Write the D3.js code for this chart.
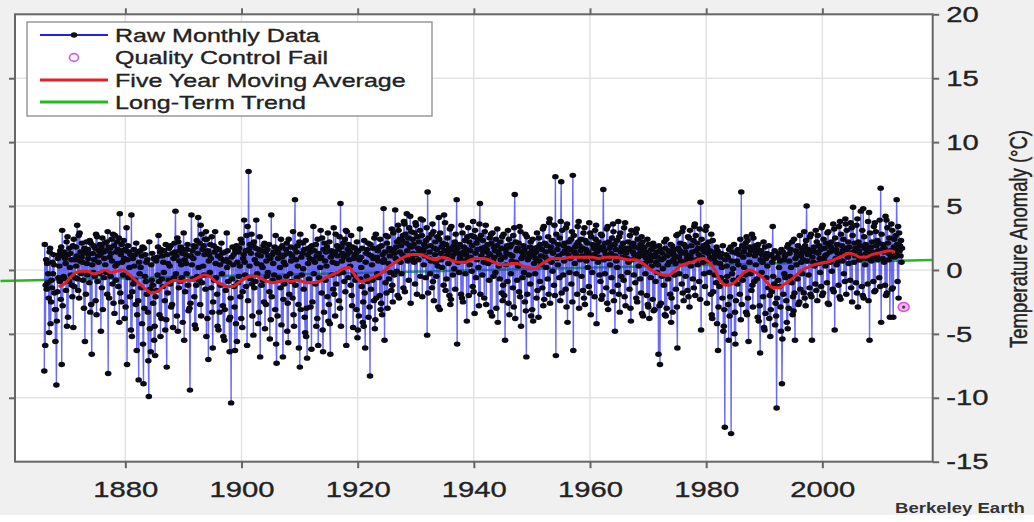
<!DOCTYPE html>
<html><head><meta charset="utf-8">
<script src="https://cdn.jsdelivr.net/npm/d3@7"></script>
<style>
html,body{margin:0;padding:0;background:#fff;}
svg{display:block;}
text{font-family:"Liberation Sans",Arial,Helvetica,sans-serif;fill:#222;stroke:#222;stroke-width:0.35px;}
</style></head><body>
<svg id="chart" width="1034" height="522"></svg>
<script>
// ---------- DATA ----------
const rawStartYear = 1866;
// monthly anomalies, tenths of °C, one row per year (Jan..Dec)
const rawMonthlyTenths = [
[-79,20,-59,-12,8,-15,5,-10,-3,-22,-49,14],
[17,-42,-25,-8,-14,6,-3,12,4,-18,-31,-56],
[-31,-90,-40,-17,9,-6,12,3,-9,15,-23,18],
[-74,31,-28,11,-5,14,-7,9,5,-16,22,-44],
[26,-37,12,-9,17,2,13,-4,8,-12,-21,19],
[-45,24,-13,8,-6,18,3,11,35,-7,-16,27],
[-22,29,7,14,-3,10,21,6,-8,13,-30,17],
[-56,15,-19,22,5,-4,16,9,12,-10,23,-33],
[21,-27,-66,4,13,-2,19,8,-5,17,-24,28],
[-35,26,-9,11,6,15,-3,20,12,-48,18,-14],
[25,-31,14,-6,9,21,4,15,-2,22,-19,30],
[-81,18,-22,10,17,-5,13,24,7,-11,28,-26],
[19,-34,27,3,-8,14,22,5,16,-13,25,-41],
[44,-18,12,-25,20,6,15,-4,23,9,-38,16],
[-29,15,33,-74,8,19,-6,14,2,-21,12,-47],
[43,-52,-17,9,-11,16,3,-8,12,-27,21,-63],
[-35,14,-24,-86,6,-3,15,2,-14,11,-42,18],
[-58,-89,17,-30,-5,12,-9,6,-19,8,-33,-71],
[-99,22,-46,-15,-64,4,-8,13,-12,-26,9,-55],
[-44,-67,-21,7,-16,10,-4,18,27,-9,-35,14],
[-52,16,-38,-7,11,-13,6,-2,15,-24,-47,20],
[-39,-76,12,-18,5,-8,17,3,-11,19,-29,-8],
[-27,13,-45,9,-6,21,14,46,-3,11,-36,25],
[-48,22,-14,7,15,-9,18,4,-6,13,-41,16],
[29,-55,8,-17,12,5,-3,16,20,-12,-32,11],
[-30,-94,-26,11,43,4,15,-7,9,19,-21,-43],
[18,-46,-12,23,-5,13,41,2,-8,21,-27,35],
[-36,28,-10,16,3,19,-4,12,24,-15,30,-52],
[24,-38,15,-70,7,12,-2,20,9,-14,26,-33],
[-61,-25,19,-8,14,30,5,-6,17,-19,-44,11],
[-47,16,-33,4,-12,9,21,-3,13,-28,-52,7],
[-55,-31,14,-16,8,29,2,15,-9,6,-39,-64],
[-37,-22,-104,10,-7,18,4,12,-13,-29,-63,15],
[-42,19,-56,6,-10,14,-5,17,3,-21,24,-38],
[21,-45,-17,9,12,39,6,-4,15,-13,27,-59],
[34,-24,77,16,3,20,-7,13,28,-11,-36,19],
[-51,22,-14,8,-9,17,39,5,-3,12,-42,16],
[-33,26,-68,11,4,-12,15,2,-8,19,-25,21],
[-46,14,-27,7,-5,16,-2,11,20,-17,-54,9],
[-39,43,-21,12,-8,5,14,-4,18,-31,27,-58],
[-73,15,-36,9,13,-6,17,2,-14,24,-43,10],
[19,-68,-23,6,-11,12,4,16,-5,21,-48,-26],
[-57,24,-19,13,-3,18,7,-9,11,-22,30,-35],
[-44,17,55,-12,8,14,-6,19,3,-27,-61,22],
[-76,28,-31,10,-4,13,21,1,-15,16,-37,-49],
[23,-52,-30,-69,12,5,17,-7,9,14,-29,18],
[-62,19,-25,8,34,-3,15,6,-11,20,-44,11],
[-38,24,-59,13,-6,9,2,31,10,-18,25,-47],
[-64,16,-33,21,7,-8,14,3,18,-21,29,-40],
[-27,22,-42,-66,10,15,-4,12,6,-15,33,-19],
[14,-36,28,-11,5,19,11,-3,16,-24,26,-30],
[52,-44,18,7,13,-2,21,10,-9,24,-17,31],
[-59,30,12,16,-6,20,8,14,3,-12,27,-20],
[-28,18,-45,9,-4,11,17,-8,13,-31,22,-53],
[-47,15,-36,8,32,-7,10,2,-13,17,-41,-25],
[-44,23,-18,-61,6,13,-5,16,-9,21,-37,12],
[-29,-83,20,-15,11,4,-8,17,9,-24,25,-46],
[-39,28,-22,10,-3,15,7,-6,18,-20,24,-31],
[-26,19,-35,12,6,48,8,-55,14,-10,27,-18],
[21,-30,26,5,-7,17,11,-2,15,-16,32,-12],
[-25,29,16,-4,13,47,9,18,-1,22,-20,35],
[31,-22,24,14,6,19,-3,23,12,27,-14,38],
[36,-17,28,10,21,44,15,7,25,-8,33,19],
[42,-26,30,18,9,24,13,20,6,29,-11,37],
[35,12,-19,26,17,8,22,14,31,-5,40,16],
[27,-21,39,15,4,20,11,18,-6,23,33,-51],
[61,-18,25,9,14,-3,19,7,28,-14,36,-9],
[30,-24,17,12,22,6,-5,16,26,3,-29,41],
[24,-31,29,13,8,18,2,21,10,-12,43,15],
[37,-16,20,-7,11,25,14,5,17,-20,32,-27],
[-23,34,9,16,-4,12,19,1,22,-15,28,14],
[55,-58,17,6,13,-2,20,9,11,-19,35,-22],
[29,-25,14,18,7,23,-3,12,16,-40,26,10],
[33,-20,22,4,15,10,27,-1,19,-13,38,-17],
[26,-34,31,13,-6,21,8,16,24,2,-28,36],
[52,-19,27,11,17,-4,23,14,6,-22,30,18],
[35,-27,16,9,20,5,13,-8,25,12,-33,28],
[21,-36,29,7,-5,18,10,15,-2,24,-30,19],
[32,-41,14,3,12,-7,22,8,17,-18,26,-24],
[-12,28,-20,10,-55,16,4,13,19,-9,31,-26],
[24,-35,18,12,-3,20,7,11,-14,27,-29,33],
[59,-38,22,6,15,-8,17,3,21,-17,34,-21],
[30,-44,9,14,-6,11,19,-2,16,-25,28,-32],
[-68,26,-19,8,13,-4,10,18,-11,22,-36,15],
[-31,24,-40,12,5,17,-3,9,14,-22,29,-16],
[18,-37,25,7,-9,20,11,4,16,-14,32,-28],
[34,-23,21,10,14,2,19,8,-7,26,-19,37],
[40,-26,15,18,6,23,-1,13,22,-12,35,-20],
[73,-67,28,9,16,4,20,11,-6,25,-24,38],
[69,-18,31,13,-4,19,7,21,15,-15,33,-29],
[36,-41,17,12,22,-2,16,9,24,-11,30,-25],
[74,-63,27,14,5,18,12,-3,20,-19,34,22],
[38,-30,19,8,15,24,-5,11,17,-16,29,-22],
[33,-27,23,16,7,13,21,2,14,-13,37,-18],
[29,-35,26,11,-2,20,9,17,12,-21,31,24],
[35,-42,14,19,6,22,10,-4,16,-9,28,-23],
[27,-20,18,63,8,15,-3,21,12,-14,32,-26],
[34,-31,22,9,17,4,19,13,-6,25,-17,36],
[30,-24,20,-48,11,16,7,23,2,-12,38,-19],
[26,-33,29,14,-5,18,10,15,21,-8,33,-21],
[37,-28,13,17,9,-2,22,6,16,-15,27,-30],
[-40,31,19,8,14,21,-4,12,18,-10,29,-22],
[32,-25,24,10,3,17,13,-7,20,-18,26,-34],
[22,-36,15,11,18,5,-3,14,9,-20,24,-27],
[-29,20,-38,7,12,-6,16,3,10,-23,21,-32],
[18,-31,12,-9,6,14,-2,10,4,-66,19,-28],
[-74,16,-26,8,-5,13,1,9,-12,22,-35,17],
[-36,24,-30,11,4,-7,15,6,12,-19,20,-41],
[-22,19,-33,13,8,16,-4,11,5,-15,27,-29],
[-61,28,17,10,-3,15,21,7,13,-11,30,-18],
[33,-24,20,6,14,-5,18,12,9,-16,26,-21],
[25,-29,31,11,3,19,8,14,-7,23,-14,34],
[36,-20,27,15,8,21,4,17,12,-9,32,-23],
[53,-47,24,10,16,6,19,-3,14,-13,31,20],
[34,-26,18,13,7,22,-2,15,10,-19,28,-35],
[-38,23,-17,9,14,-4,12,6,-10,18,-42,15],
[-63,-29,11,-13,5,10,-6,13,2,-22,19,-48],
[-44,-31,-123,8,-9,12,3,-5,10,-27,-55,16],
[-36,-21,18,-128,7,-3,14,1,-8,20,-50,-33],
[-58,-24,13,7,-11,16,4,-6,12,-19,24,-39],
[61,-27,19,-8,10,14,2,17,-4,21,-33,26],
[-35,23,-22,-56,12,6,18,-3,15,-16,28,-12],
[-29,25,15,-9,11,19,4,13,-7,17,-37,20],
[-40,14,-28,-65,8,15,-2,12,6,-21,22,-45],
[-47,18,-34,9,-6,13,3,11,-14,19,-38,-20],
[-52,-31,12,-17,6,34,-5,9,-11,15,-43,-26],
[-36,-108,-22,10,-8,13,2,-13,7,-29,-48,16],
[-89,-54,14,-19,8,-3,11,-6,12,-24,-41,18],
[-46,20,-30,7,13,-5,16,2,-10,22,-35,-21],
[-32,24,-18,-55,9,15,4,12,-7,19,-27,13],
[-25,27,-15,11,6,17,-3,14,8,-18,30,-22],
[19,-28,23,50,7,12,16,-4,13,-14,26,-19],
[28,-21,-55,10,15,6,18,3,14,-11,31,-16],
[22,-24,27,13,5,19,9,-2,16,-13,33,-20],
[35,-18,24,8,17,11,3,21,12,-10,29,-26],
[30,-27,20,14,6,18,22,-1,15,-15,36,-17],
[32,-47,25,9,16,4,20,13,7,-12,34,-21],
[38,-23,28,12,19,7,15,24,-3,17,-9,40],
[36,-19,31,16,10,22,5,18,13,-8,37,-14],
[33,-25,27,49,14,6,21,11,17,-10,35,-18],
[40,-29,22,15,8,19,12,46,9,-13,31,-20],
[48,-22,26,17,4,20,13,9,16,-11,38,-24],
[45,-55,29,12,18,7,22,14,10,-9,34,-17],
[37,-16,30,19,11,23,8,15,21,-6,39,-13],
[64,-41,28,16,9,20,14,6,17,-12,42,-20],
[39,-18,33,21,13,8,25,-37,15,11,36,-15],
[31,-14,-37,18,24,10,16,27,12,55,20,-9],
[34,-22,29,15,19,11,23,6,17]
];
const qcFailYears = [2014.0];
const qcFailValues = [-2.9];
const movingAvgStartYear = 1868;
const movingAvgValues = [
-1.3,-1.1,-0.6,-0.2,-0.1,-0.1,-0.3,-0.2,0.0,-0.2,-0.1,0.0,
-0.3,-0.7,-1.1,-1.5,-1.8,-1.7,-1.3,-1.0,-0.8,-0.9,
-0.8,-0.8,-0.6,-0.4,-0.5,-0.9,-1.1,-1.3,-1.3,-1.0,
-0.7,-0.5,-0.5,-0.7,-0.9,-1.0,-0.9,-0.8,-0.9,-0.8,
-0.9,-1.0,-1.0,-0.9,-0.6,-0.4,-0.2,0.1,0.2,-0.4,
-0.9,-0.8,-0.6,-0.4,-0.1,0.3,0.6,0.9,1.1,1.2,
1.2,1.1,0.9,0.8,1.0,0.9,0.7,0.6,0.6,0.8,
0.9,0.9,0.8,0.6,0.4,0.4,0.5,0.5,0.3,0.2,
0.1,0.4,0.7,0.9,0.9,0.9,1.0,1.0,1.0,1.0,
1.0,0.9,1.0,1.0,1.0,0.9,0.8,0.8,0.7,0.4,
0.0,-0.2,-0.4,-0.4,-0.1,0.3,0.5,0.6,0.8,0.9,
0.6,0.0,-0.9,-1.2,-1.1,-0.7,-0.2,0.0,-0.2,-0.5,
-1.0,-1.4,-1.4,-1.1,-0.8,-0.4,0.0,0.2,0.4,0.5,
0.6,0.7,0.9,1.1,1.3,1.2,1.0,1.0,1.2,1.3,
1.4,1.5,1.4
];
const trendYears = [1858.5, 2018.9];
const trendValues = [-0.86, 0.78];
const xTicks = [1880, 1900, 1920, 1940, 1960, 1980, 2000];
const yTicks = [-15, -10, -5, 0, 5, 10, 15, 20];
const legendLabels = ["Raw Monthly Data", "Quality Control Fail", "Five Year Moving Average", "Long-Term Trend"];
const yAxisTitle = "Temperature Anomaly (\u00B0C)";
const creditText = "Berkeley Earth";

// ---------- BUILD ----------
const raw = [];
rawMonthlyTenths.forEach((row, yi) => row.forEach((v, m) => raw.push({t: rawStartYear + yi + (m + 0.5) / 12, v: v / 10})));
const ma = movingAvgValues.map((v, i) => ({t: movingAvgStartYear + i + 0.5, v}));
const trend = trendYears.map((t, i) => ({t, v: trendValues[i]}));
const qc = qcFailYears.map((t, i) => ({t, v: qcFailValues[i]}));

const W = 1034, H = 522;
const L = 15, R = 932.7, T = 14.3, B = 461.7;
const SX = 1.3; // horizontal text stretch

const svg = d3.select("#chart");
svg.append("rect").attr("x", 0).attr("y", 0).attr("width", W).attr("height", 515).attr("fill", "#f0f0f0");

const x = d3.scaleLinear().domain([1861, 2019]).range([L, R]);
const y = d3.scaleLinear().domain([-15, 20]).range([B, T]);

svg.append("rect").attr("x", L).attr("y", T).attr("width", R - L).attr("height", B - T).attr("fill", "#fff");

// grid
const grid = svg.append("g").attr("stroke", "#e3e3e3").attr("stroke-width", 1.5);
grid.selectAll("line.gx").data(xTicks).join("line").attr("class", "gx")
  .attr("x1", d => x(d)).attr("x2", d => x(d)).attr("y1", T).attr("y2", B);
grid.selectAll("line.gy").data(yTicks.slice(1, -1)).join("line").attr("class", "gy")
  .attr("x1", L).attr("x2", R).attr("y1", d => y(d)).attr("y2", d => y(d));

const line = d3.line().x(d => x(d.t)).y(d => y(d.v));

// trend
svg.append("path").datum(trend).attr("d", line).attr("fill", "none")
  .attr("stroke", "#22bb22").attr("stroke-width", 2.6);

// raw line
svg.append("path").datum(raw).attr("d", line).attr("fill", "none")
  .attr("stroke", "#3030ee").attr("stroke-opacity", 0.72).attr("stroke-width", 1.4);

// raw dots
svg.append("g").selectAll("ellipse").data(raw).join("ellipse")
  .attr("cx", d => x(d.t)).attr("cy", d => y(d.v)).attr("rx", 3.3).attr("ry", 2.7).attr("fill", "#0a0a14");

// moving average
svg.append("path").datum(ma).attr("d", line.curve(d3.curveMonotoneX)).attr("fill", "none")
  .attr("stroke", "#e41f26").attr("stroke-width", 3).attr("stroke-linejoin", "round");

// QC fail
const qg = svg.append("g");
qg.selectAll("ellipse.qc").data(qc).join("ellipse").attr("class", "qc")
  .attr("cx", d => x(d.t)).attr("cy", d => y(d.v)).attr("rx", 5.5).attr("ry", 4.5)
  .attr("fill", "#f3b6ef").attr("stroke", "#dd55dd").attr("stroke-width", 1.6);
qg.selectAll("circle.qcd").data(qc).join("circle").attr("class", "qcd")
  .attr("cx", d => x(d.t)).attr("cy", d => y(d.v)).attr("r", 1.6).attr("fill", "#553355");

// frame
svg.append("rect").attr("x", L).attr("y", T).attr("width", R - L).attr("height", B - T)
  .attr("fill", "none").attr("stroke", "#666").attr("stroke-width", 2);

function styleAxis(g) {
  g.select(".domain").remove();
  g.selectAll(".tick line").attr("stroke", "#666").attr("stroke-width", 2);
  g.selectAll("text").attr("font-family", null).attr("font-size", 22.5).attr("fill", "#222");
}
const ax = svg.append("g").attr("transform", `translate(0,${B})`)
  .call(d3.axisBottom(x).tickValues(xTicks).tickSize(6.5).tickPadding(13).tickFormat(d3.format("d")))
  .call(styleAxis);
ax.selectAll("text").attr("transform", `scale(${SX},1)`);
svg.append("g").attr("transform", `translate(0,${T})`)
  .call(d3.axisTop(x).tickValues(xTicks).tickSize(6).tickFormat(""))
  .call(styleAxis);
svg.append("g").attr("transform", `translate(${L},0)`)
  .call(d3.axisLeft(y).tickValues(yTicks.slice(1, -1)).tickSize(6).tickFormat(""))
  .call(styleAxis);
const ay = svg.append("g").attr("transform", `translate(${R},0)`)
  .call(d3.axisRight(y).tickValues(yTicks).tickSize(6.5).tickFormat(d => String(d)))
  .call(styleAxis);
ay.selectAll("text").attr("x", 0).attr("transform", `translate(13.5,0) scale(${SX},1)`);

// right axis title
svg.append("g").attr("transform", `translate(1019,239) scale(${SX},1) rotate(-90)`)
  .append("text").attr("text-anchor", "middle").attr("dy", "0.35em")
  .attr("font-size", 18.5).text(yAxisTitle);

// credit
svg.append("g").attr("transform", `translate(895,513) scale(1.28,1)`)
  .append("text").attr("font-size", 14.5).attr("font-weight", "bold")
  .style("fill", "#333").style("stroke", "none").text(creditText);

// legend
const lg = svg.append("g");
lg.append("rect").attr("x", 27).attr("y", 22).attr("width", 405).attr("height", 94)
  .attr("fill", "#fff").attr("stroke", "#8a8a8a").attr("stroke-width", 1.3);
const rowY = [35, 57.5, 80, 102];
const lx1 = 40, lx2 = 108, lxm = 74;
lg.append("line").attr("x1", lx1).attr("x2", lx2).attr("y1", rowY[0]).attr("y2", rowY[0])
  .attr("stroke", "#2222dd").attr("stroke-width", 2);
lg.append("ellipse").attr("cx", lxm).attr("cy", rowY[0]).attr("rx", 3.3).attr("ry", 2.8).attr("fill", "#111");
lg.append("ellipse").attr("cx", lxm).attr("cy", rowY[1]).attr("rx", 4.5).attr("ry", 3.8)
  .attr("fill", "#fff").attr("stroke", "#cc66dd").attr("stroke-width", 1.8);
lg.append("line").attr("x1", lx1).attr("x2", lx2).attr("y1", rowY[2]).attr("y2", rowY[2])
  .attr("stroke", "#e41f26").attr("stroke-width", 2.8);
lg.append("line").attr("x1", lx1).attr("x2", lx2).attr("y1", rowY[3]).attr("y2", rowY[3])
  .attr("stroke", "#22bb22").attr("stroke-width", 2.8);
legendLabels.forEach((lab, i) => {
  lg.append("g").attr("transform", `translate(115,${rowY[i] + 6.8}) scale(1.32,1)`)
    .append("text").attr("font-size", 19).text(lab);
});
</script>
</body></html>
